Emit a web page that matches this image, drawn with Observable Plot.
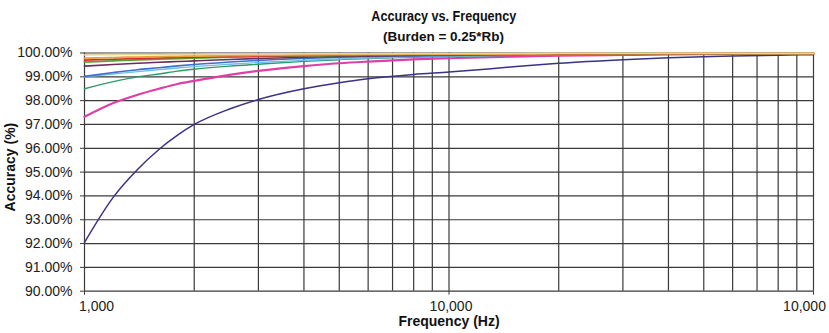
<!DOCTYPE html>
<html>
<head>
<meta charset="utf-8">
<script src="https://cdn.jsdelivr.net/npm/d3@7"></script>
<script src="https://cdn.jsdelivr.net/npm/@observablehq/plot@0.6"></script>
<style>
  body { margin: 0; background: #fff; font-family: "Liberation Sans", Arial, sans-serif; }
  #title { width: 829px; height: 40px; padding-top: 9px; box-sizing: border-box; text-align: center; font-weight: bold; color: #111; }
  #title .t1 { font-size: 14px; line-height: 15px; height: 15px; padding-left: 58px; transform: scaleX(0.9); transform-origin: 447px 0; }
  #title .t2 { font-size: 13.5px; line-height: 15px; height: 15px; margin-top: 5px; padding-left: 58px; }
  #chart svg { overflow: visible; display: block; }
</style>
</head>
<body>
<div id="title"><div class="t1">Accuracy vs. Frequency</div><div class="t2">(Burden = 0.25*Rb)</div></div>
<div id="chart"></div>
<script>
const freqs = [1000,1200,1400,1600,1800,2000,2500,3000,4000,5000,6000,8000,10000,15000,20000,30000,40000,60000,80000,100000];

const seriesNames = ["s1","s2","s3","s4","s5","s6","s7","s8","s9","s10"];
const seriesColors = ["#e5d6a0","#e8a03a","#cc2b35","#5aa22e","#6b2d5e","#3d6fcc","#6cc0e4","#2e9a6a","#dd3fa6","#3a3286"];

const tanVals     = [99.92,99.93,99.94,99.94,99.95,99.95,99.96,99.96,99.97,99.97,99.97,99.98,99.98,99.98,99.99,99.99,99.99,99.99,99.99,99.99];
const orangeVals  = [99.78,99.81,99.83,99.85,99.86,99.87,99.89,99.90,99.92,99.93,99.94,99.95,99.95,99.96,99.97,99.97,99.98,99.98,99.98,99.98];
const redVals     = [99.70,99.74,99.77,99.79,99.81,99.82,99.85,99.87,99.89,99.91,99.92,99.93,99.94,99.95,99.96,99.97,99.97,99.98,99.98,99.98];
const greenVals   = [99.62,99.67,99.71,99.74,99.77,99.79,99.83,99.85,99.88,99.90,99.91,99.93,99.94,99.95,99.96,99.97,99.97,99.98,99.98,99.98];
const maroonVals  = [99.45,99.52,99.57,99.61,99.64,99.67,99.73,99.77,99.82,99.85,99.87,99.90,99.92,99.94,99.95,99.96,99.97,99.97,99.98,99.98];
const blueVals    = [99.02,99.18,99.30,99.38,99.46,99.52,99.62,99.69,99.77,99.82,99.85,99.88,99.90,99.93,99.95,99.96,99.97,99.97,99.98,99.98];
const cyanVals    = [99.00,99.12,99.22,99.30,99.37,99.43,99.53,99.60,99.69,99.75,99.79,99.84,99.87,99.91,99.93,99.95,99.96,99.97,99.97,99.98];
const tealVals    = [98.50,98.80,99.00,99.12,99.24,99.32,99.45,99.53,99.65,99.72,99.77,99.82,99.86,99.90,99.92,99.95,99.96,99.97,99.98,99.98];
const magentaVals = [97.32,97.90,98.25,98.50,98.70,98.83,99.08,99.25,99.45,99.57,99.64,99.73,99.78,99.85,99.89,99.92,99.94,99.96,99.97,99.97];
const navyVals    = [92.05,93.95,95.12,95.95,96.55,97.00,97.65,98.05,98.50,98.75,98.92,99.10,99.20,99.42,99.57,99.72,99.80,99.87,99.91,99.93];

const allVals = [tanVals,orangeVals,redVals,greenVals,maroonVals,blueVals,cyanVals,tealVals,magentaVals,navyVals];

const yTicks = [90,91,92,93,94,95,96,97,98,99,100];
const xLabelValues = [1000, 10000, 100000];
const xLabelTexts = ["1,000", "10,000", "10,000"];

const rows = [];
allVals.forEach((vals, si) => vals.forEach((v, i) => rows.push({series: seriesNames[si], f: freqs[i], acc: v})));

const gridX = [];
[1000, 10000].forEach(d => { for (let m = 1; m <= 9; m++) gridX.push(d * m); });
gridX.push(100000);

const widths = {s1:1.6,s2:1.8,s3:1.6,s4:1.8,s5:1.6,s6:1.6,s7:1.4,s8:1.4,s9:2.2,s10:1.5};

const chart = Plot.plot({
  width: 829,
  height: 293,
  marginLeft: 84,
  marginRight: 16,
  marginTop: 12.5,
  marginBottom: 42.3,
  style: { fontFamily: "Liberation Sans, Arial, sans-serif", fontSize: "14px", color: "#222", background: "#fff", overflow: "visible" },
  x: { type: "log", domain: [1000, 100000] },
  y: { domain: [90, 100] },
  color: { domain: seriesNames, range: seriesColors },
  marks: [
    Plot.ruleX(gridX, { stroke: "#3a3a3a", strokeWidth: 1.2 }),
    Plot.ruleY(yTicks, { stroke: "#3a3a3a", strokeWidth: 1.2 }),
    Plot.axisY({ ticks: yTicks, tickSize: 4, tickPadding: 8, tickFormat: d => d.toFixed(2) + "%", label: null, fontSize: 14, stroke: "#3a3a3a" }),
    Plot.axisX({ ticks: xLabelValues, tickSize: 4, tickFormat: () => "", label: null, stroke: "#3a3a3a" }),
    Plot.text([xLabelValues[0]], { x: d => d, text: () => xLabelTexts[0], frameAnchor: "bottom", dy: 20, dx: 12, fontSize: 14, fill: "#222" }),
    Plot.text([xLabelValues[1]], { x: d => d, text: () => xLabelTexts[1], frameAnchor: "bottom", dy: 20, dx: 2, fontSize: 14, fill: "#222" }),
    Plot.text([xLabelValues[2]], { x: d => d, text: () => xLabelTexts[2], frameAnchor: "bottom", dy: 20, dx: -9, fontSize: 14, fill: "#222" }),
    Plot.text(["Frequency (Hz)"], { frameAnchor: "bottom", dy: 35, dx: 0, text: d => d, fontWeight: "bold", fontSize: 14, fill: "#111" }),
    Plot.text(["Accuracy (%)"], { frameAnchor: "left", textAnchor: "middle", dx: -74, dy: -5, rotate: -90, text: d => d, fontWeight: "bold", fontSize: 14, fill: "#111" }),
    ...seriesNames.map(s => Plot.line(rows.filter(r => r.series === s), {
      x: "f", y: "acc", stroke: seriesColors[seriesNames.indexOf(s)], strokeWidth: widths[s], curve: "monotone-x"
    })).reverse()
  ]
});
document.getElementById("chart").appendChild(chart);
</script>
</body>
</html>
